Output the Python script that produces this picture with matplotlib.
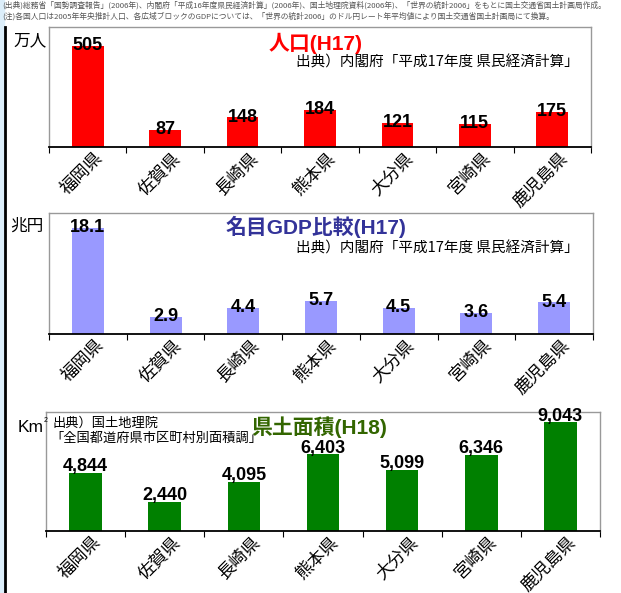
import matplotlib
matplotlib.use('Agg')
import matplotlib.pyplot as plt
from matplotlib.patches import Rectangle
from matplotlib.lines import Line2D
from matplotlib.transforms import ScaledTranslation

plt.rcParams['font.family'] = ['Liberation Sans', 'Noto Sans CJK JP', 'DejaVu Sans']

# Data
prefs = ['福岡県', '佐賀県', '長崎県', '熊本県', '大分県', '宮崎県', '鹿児島県']
population = [505, 87, 148, 184, 121, 115, 175]          # 万人 (H17)
gdp = [18.1, 2.9, 4.4, 5.7, 4.5, 3.6, 5.4]               # 兆円 (H17)
area = [4844, 2440, 4095, 6403, 5099, 6346, 9043]        # Km2 (H18)

pop_labels = [str(v) for v in population]
gdp_labels = [f"{v:.1f}" for v in gdp]
area_labels = [f"{v:,}" for v in area]

note1 = ("(出典)総務省「国勢調査報告」(2006年)、内閣府「平成16年度県民経済計算」(2006年)、国土地理院資料(2006年)、"
         "「世界の統計2006」をもとに国土交通省国土計画局作成。")
note2 = ("(注)各国人口は2005年年央推計人口、各広域ブロックのGDPについては、「世界の統計2006」のドル円レート"
         "年平均値により国土交通省国土計画局にて換算。")

W, H = 621, 593
fig = plt.figure(figsize=(W / 100, H / 100), dpi=100)


def fx(x):
    return x / W


def fy(y):
    return 1 - y / H


def make_panel(left, top, right, bottom, values, labels, color, ymax, label_dy):
    ax = fig.add_axes([fx(left), fy(bottom), fx(right - left), (bottom - top) / H])
    x = range(len(values))
    ax.bar(x, values, width=0.41, color=color, zorder=2)
    ax.set_xlim(-0.5, len(values) - 0.5)
    ax.set_ylim(0, ymax)
    ax.set_yticks([])
    for s in ['left', 'top', 'right']:
        ax.spines[s].set_color('#999999')
        ax.spines[s].set_linewidth(1.0)
    ax.spines['bottom'].set_color('black')
    ax.spines['bottom'].set_linewidth(1.3)
    ax.set_xticks(list(x))
    ax.set_xticklabels(prefs, fontsize=12.5, rotation=45, ha='right', va='center',
                       rotation_mode='anchor', family=['Noto Sans CJK JP'])
    ax.tick_params(axis='x', which='major', length=0, pad=6)
    ax.set_xticks([i - 0.5 for i in range(len(values) + 1)], minor=True)
    ax.tick_params(axis='x', which='minor', length=4, width=0.8, direction='out')
    off = ScaledTranslation(0.13, 0, fig.dpi_scale_trans)
    for lab in ax.get_xticklabels():
        lab.set_transform(lab.get_transform() + off)
    for i, (v, t) in enumerate(zip(values, labels)):
        ax.annotate(t, (i, v), textcoords='offset points', xytext=(0, label_dy),
                    ha='center', va='baseline', fontsize=13, fontweight='bold',
                    zorder=3)
    return ax


# left border decoration
fig.patches.append(Rectangle((0, 0), fx(4), 1, transform=fig.transFigure,
                             color='#dceefa', zorder=0))
fig.lines.append(Line2D([fx(5.3), fx(5.3)], [0, fy(27)], transform=fig.transFigure,
                        color='black', lw=2))

# header notes
fig.text(fx(2), fy(5), note1, fontsize=5.6, color='#555555', va='center', ha='left',
         family=['Noto Sans CJK JP'])
fig.text(fx(2), fy(16), note2, fontsize=5.6, color='#555555', va='center', ha='left',
         family=['Noto Sans CJK JP'])

# Panel 1: population
make_panel(49, 27, 591, 147, population, pop_labels, '#ff0000', 600, -3)
fig.text(fx(316), fy(43), '人口(H17)', color='#ff0000', fontsize=15, fontweight='bold',
         ha='center', va='center')
fig.text(fx(579), fy(62), '出典）内閣府「平成17年度 県民経済計算」', fontsize=10.5,
         ha='right', va='center', family=['Noto Sans CJK JP'])
fig.text(fx(30), fy(41), '万人', fontsize=12, ha='center', va='center',
         family=['Noto Sans CJK JP'])

# Panel 2: GDP
make_panel(49, 213, 593, 334, gdp, gdp_labels, '#9999ff', 20.7, -3)
fig.text(fx(316), fy(227), '名目GDP比較(H17)', color='#333399', fontsize=15, fontweight='bold',
         ha='center', va='center')
fig.text(fx(579), fy(248), '出典）内閣府「平成17年度 県民経済計算」', fontsize=10.5,
         ha='right', va='center', family=['Noto Sans CJK JP'])
fig.text(fx(27), fy(226), '兆円', fontsize=12, ha='center', va='center',
         family=['Noto Sans CJK JP'])

# Panel 3: area
make_panel(46, 412, 600, 531, area, area_labels, '#008000', 9900, 1)
fig.text(fx(319), fy(427), '県土面積(H18)', color='#336600', fontsize=15, fontweight='bold',
         ha='center', va='center')
fig.text(fx(52), fy(423), '出典）国土地理院', fontsize=9.5, ha='left', va='center',
         family=['Noto Sans CJK JP'])
fig.text(fx(50), fy(438), '「全国都道府県市区町村別面積調」', fontsize=9.5, ha='left', va='center',
         family=['Noto Sans CJK JP'])
fig.text(fx(31), fy(428), 'Km', fontsize=12.5, ha='center', va='center')
fig.text(fx(44), fy(421), '2', fontsize=5, ha='left', va='center')

fig.savefig('out.png', dpi=100)
